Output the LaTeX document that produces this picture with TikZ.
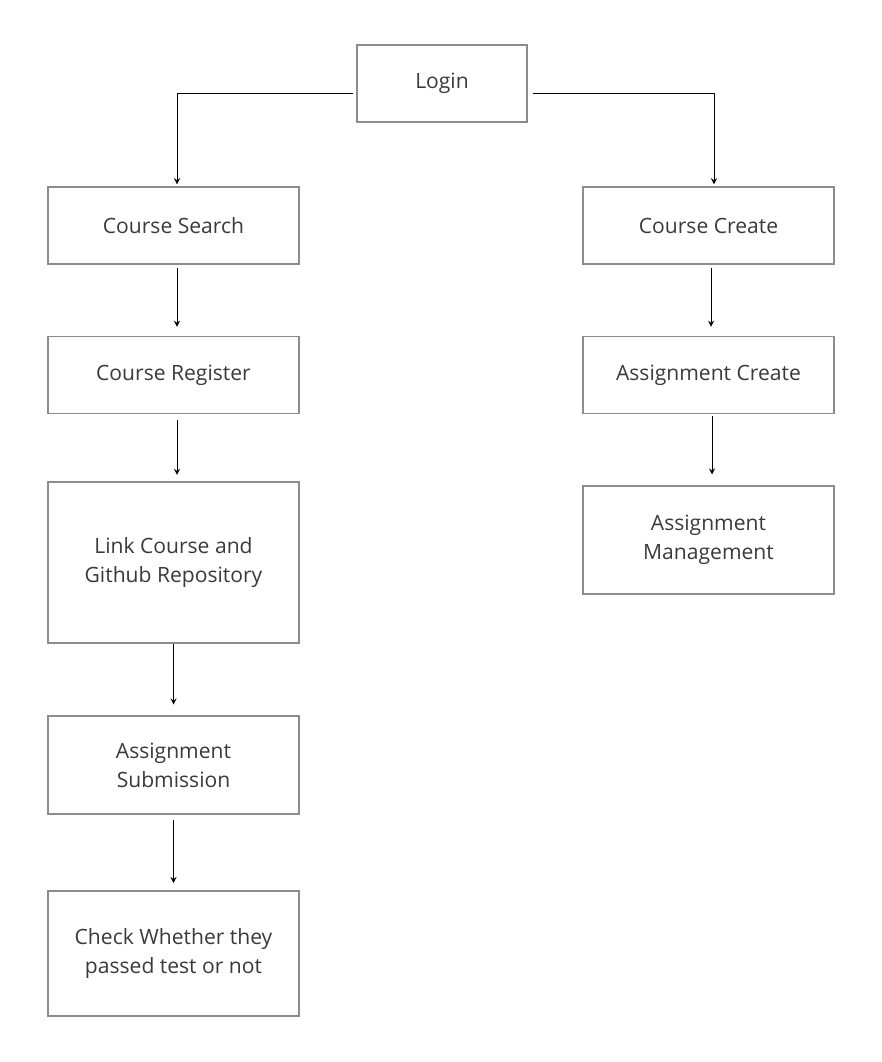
\documentclass[tikz,border=0pt]{standalone}
\usepackage{fontspec}
\setmainfont{Open Sans}
\usepackage{tikz}
\usetikzlibrary{shapes,arrows,positioning,calc}
\definecolor{boxgray}{HTML}{8C8C8C}
\definecolor{txtgray}{HTML}{3A3A3A}
\begin{document}
\begin{tikzpicture}[
    x=0.02cm, y=-0.02cm,
    stepbox/.style={rectangle, draw=boxgray, line width=1.1pt, minimum width=251*0.02cm, minimum height=77*0.02cm, align=center, font=\fontsize{12}{16.5}\selectfont, text=txtgray},
    flow/.style={->, >=stealth, line width=0.55pt, shorten >=1pt}
]
\useasboundingbox (0,0) rectangle (882,1062);

% Top
\node[stepbox, minimum width=170*0.02cm] (login) at (442,83.5) {Login};

% Student side
\node[stepbox] (search) at (173.5,225.5) {Course Search};
\node[stepbox] (register) at (173.5,375) {Course Register};
\node[stepbox, minimum height=161*0.02cm] (link) at (173.5,562.5) {Link Course and\\Github Repository};
\node[stepbox, minimum height=98*0.02cm] (submit) at (173.5,765) {Assignment\\Submission};
\node[stepbox, minimum height=125*0.02cm] (check) at (173.5,953.5) {Check Whether they\\passed test or not};

% Professor side
\node[stepbox] (create) at (708.5,225.5) {Course Create};
\node[stepbox] (acreate) at (708.5,375) {Assignment Create};
\node[stepbox, minimum height=108*0.02cm] (manage) at (708.5,540) {Assignment\\Management};

% Arrows - Login to both sides
\draw[flow, shorten <=2pt] ([yshift=-9.5*0.02cm]login.west) -| ([xshift=3.5*0.02cm]search.north);
\draw[flow, shorten <=3pt] ([yshift=-9.5*0.02cm]login.east) -| ([xshift=5.5*0.02cm]create.north);

% Arrows - student flow
\draw[flow, shorten <=2pt, shorten >=5pt] ([xshift=3.5*0.02cm]search.south) -- ([xshift=3.5*0.02cm]register.north);
\draw[flow, shorten <=3pt, shorten >=3.5pt] ([xshift=3.5*0.02cm]register.south) -- ([xshift=3.5*0.02cm]link.north);
\draw[flow, shorten >=6pt] (link.south) -- (submit.north);
\draw[flow, shorten <=3pt, shorten >=4pt] (submit.south) -- (check.north);

% Arrows - professor flow
\draw[flow, shorten <=2pt, shorten >=5pt] ([xshift=2.5*0.02cm]create.south) -- ([xshift=2.5*0.02cm]acreate.north);
\draw[flow, shorten <=1pt, shorten >=6pt] ([xshift=3.5*0.02cm]acreate.south) -- ([xshift=3.5*0.02cm]manage.north);

\end{tikzpicture}
\end{document}
